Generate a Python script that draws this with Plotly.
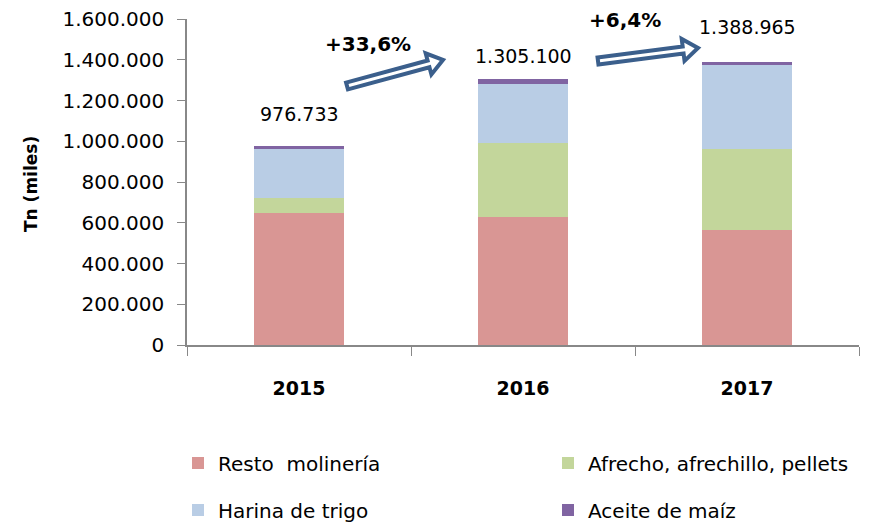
import plotly.graph_objects as go

years = ["2015", "2016", "2017"]
resto = [648000, 630000, 566000]
afrecho = [73000, 360000, 394000]
harina = [239000, 293000, 415000]
aceite = [17000, 22000, 14000]
totals = [976733, 1305100, 1388965]
changes = ["+33,6%", "+6,4%"]

series = [
    ("Resto\u00a0 molinería", resto, "#D99694", "legend"),
    ("Afrecho, afrechillo, pellets", afrecho, "#C3D69B", "legend"),
    ("Harina de trigo", harina, "#B9CDE5", "legend2"),
    ("Aceite de maíz", aceite, "#8064A2", "legend2"),
]

# the page puts the figure 8px in from the top-left corner
OFF = 8
W, H = 869 - OFF, 523 - OFF
L, R, T, B = 187 - OFF, 10, 19 - OFF, 178
PW, PH = W - L - R, H - T - B


def px(x, y):
    # screen pixel -> paper coords
    return (x - OFF - L) / PW, (H - B - (y - OFF)) / PH


def arrow_path(x0, y0, x1, y1, sw=3.5, hw=11.0, hl=15.0):
    dx, dy = x1 - x0, y1 - y0
    n = (dx ** 2 + dy ** 2) ** 0.5
    ux, uy = dx / n, dy / n
    nx, ny = -uy, ux
    bx, by = x1 - ux * hl, y1 - uy * hl
    pts = [
        (x0 + nx * sw, y0 + ny * sw),
        (bx + nx * sw, by + ny * sw),
        (bx + nx * hw, by + ny * hw),
        (x1, y1),
        (bx - nx * hw, by - ny * hw),
        (bx - nx * sw, by - ny * sw),
        (x0 - nx * sw, y0 - ny * sw),
    ]
    pp = [px(a, b) for a, b in pts]
    return "M " + " L ".join(f"{a:.5f},{b:.5f}" for a, b in pp) + " Z"


fig = go.Figure()
for name, vals, color, leg in series:
    fig.add_trace(go.Bar(
        x=years, y=vals, name=name, marker_color=color,
        marker_line_width=0, legend=leg,
    ))

font = "DejaVu Sans"
annotations = []
label_shift = [19, 10, 22]
for i, (tot, sh) in enumerate(zip(totals, label_shift)):
    annotations.append(dict(
        x=i, y=tot, xref="x", yref="y", text=f"{tot:,}".replace(",", "."),
        showarrow=False, xanchor="center", yanchor="bottom", yshift=sh,
        font=dict(family=font, size=19, color="black"),
    ))

for txt, (cx, cy) in zip(changes, [(368, 44), (625, 20)]):
    ax, ay = px(cx, cy)
    annotations.append(dict(
        x=ax, y=ay, xref="paper", yref="paper", text=f"<b>{txt}</b>",
        showarrow=False, xanchor="center", yanchor="middle",
        font=dict(family=font, size=20, color="black"),
    ))

tx, ty = px(31, 184)
annotations.append(dict(
    x=tx, y=ty, xref="paper", yref="paper", text="<b>Tn (miles)</b>",
    textangle=-90, showarrow=False, xanchor="center", yanchor="middle",
    font=dict(family=font, size=17, color="black"),
))

shapes = []
for (a, b, c, d) in [(347, 86, 443, 60), (598, 61, 698, 48)]:
    shapes.append(dict(
        type="path", xref="paper", yref="paper", path=arrow_path(a, b, c, d),
        fillcolor="white", line=dict(color="#3B5F8C", width=4),
    ))

lx, _ = px(178, 0)
_, ly1 = px(0, 463)
_, ly2 = px(0, 510)
leg_common = dict(
    orientation="h", xanchor="left", yanchor="middle", x=lx,
    entrywidth=325, entrywidthmode="pixels", traceorder="normal",
    font=dict(family=font, size=20, color="black"),
    bgcolor="rgba(0,0,0,0)",
)

fig.update_layout(
    width=W, height=H,
    margin=dict(l=L, r=R, t=T, b=B, pad=0, autoexpand=False),
    barmode="stack", bargap=0.6,
    separators=",.",
    plot_bgcolor="white", paper_bgcolor="white",
    font=dict(family=font, size=19, color="black"),
    legend=dict(leg_common, y=ly1),
    legend2=dict(leg_common, y=ly2),
    annotations=annotations,
    shapes=shapes,
)

fig.update_yaxes(
    range=[0, 1600500], dtick=200000, tickformat=",d",
    showgrid=False, zeroline=False,
    showline=True, linecolor="#888888", linewidth=1.5,
    ticks="outside", ticklen=8, tickcolor="#888888",
    ticklabelstandoff=9, ticklabeloverflow="allow",
    tickfont=dict(family=font, size=20, color="black"),
)
fig.update_xaxes(
    type="category", range=[-0.5, 2.5], autorange=False,
    showgrid=False, showline=True, linecolor="#888888", linewidth=1.5,
    ticks="outside", tickson="boundaries", ticklen=9, tickcolor="#888888",
    tickfont=dict(family=font, size=19, color="black"),
    tickvals=years, ticktext=[f"<b>{y}</b>" for y in years],
    ticklabelstandoff=25,
)

fig.write_html("out.html")
